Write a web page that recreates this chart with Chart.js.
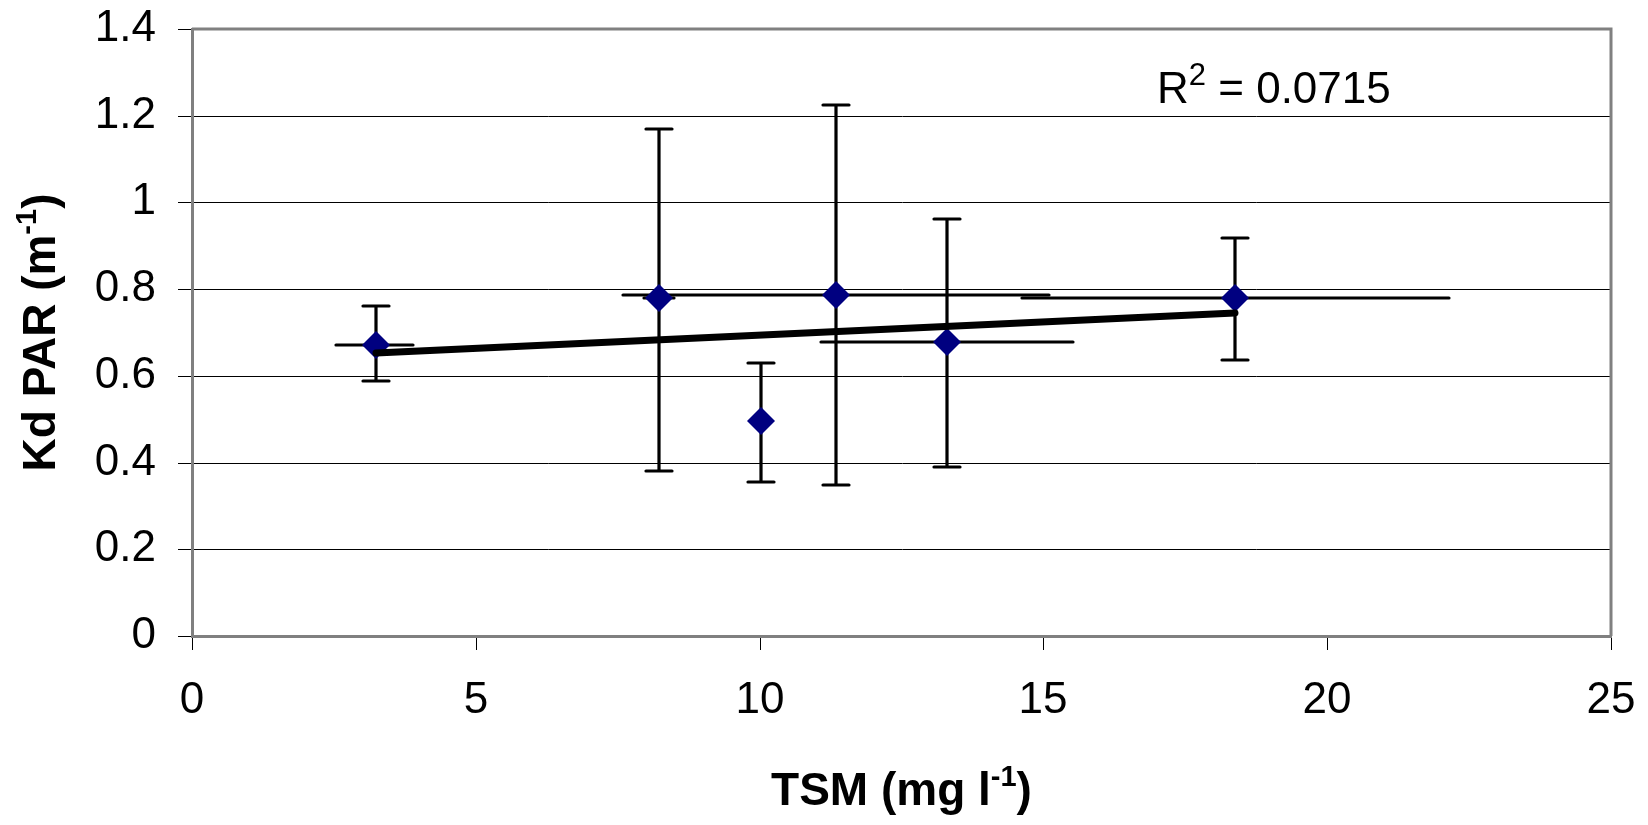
<!DOCTYPE html>
<html lang="en">
  <head>
    <meta charset="UTF-8" />
    <title>Kd PAR vs TSM</title>
    <script src="https://cdn.jsdelivr.net/npm/chart.js@4.4.0/dist/chart.umd.min.js"></script>
    <style>
      body { margin: 0; background: #fff; }
      canvas { display: block; }
    </style>
  </head>
  <body>
    <canvas id="chart" width="1648" height="825"></canvas>

    <script>
      // values
      const tsm = [3.24, 8.23, 10.02, 11.34, 13.31, 18.38];
      const kdPar = [0.671, 0.779, 0.497, 0.786, 0.679, 0.779];
      // vertical error bars (Kd PAR)
      const kdLow = [0.588, 0.381, 0.356, 0.348, 0.389, 0.637];
      const kdHigh = [0.762, 1.169, 0.63, 1.224, 0.961, 0.919];
      // horizontal error bars (TSM)
      const tsmLow = [2.53, 7.97, 10.02, 7.59, 11.08, 14.62];
      const tsmHigh = [3.9, 8.5, 10.02, 15.09, 15.53, 22.14];
      // linear trend line ends
      const trendX = [3.24, 18.38];
      const trendY = [0.653, 0.745];

      const xTickLabels = ["0", "5", "10", "15", "20", "25"];
      const yTickLabels = ["0", "0.2", "0.4", "0.6", "0.8", "1", "1.2", "1.4"];
      const rSquared = "0.0715";

      const FONT = "'Liberation Sans', Arial, sans-serif";

      // draws text with a raised small part: [main, sup, tail]
      function drawSupText(ctx, parts, x, y, size, bold, align, supScale) {
        const w = bold ? "bold " : "";
        const supSize = Math.round(size * (supScale || 0.62));
        ctx.font = w + size + "px " + FONT;
        const w1 = ctx.measureText(parts[0]).width;
        const w3 = ctx.measureText(parts[2]).width;
        ctx.font = w + supSize + "px " + FONT;
        const w2 = ctx.measureText(parts[1]).width;
        const total = w1 + w2 + w3;
        let sx = align === "center" ? x - total / 2 : x;
        ctx.textAlign = "left";
        ctx.textBaseline = "alphabetic";
        ctx.font = w + size + "px " + FONT;
        ctx.fillText(parts[0], sx, y);
        ctx.font = w + supSize + "px " + FONT;
        ctx.fillText(parts[1], sx + w1, y - size * 0.42);
        ctx.font = w + size + "px " + FONT;
        ctx.fillText(parts[2], sx + w1 + w2, y);
      }

      const errorBars = {
        id: "errorBars",
        beforeDatasetsDraw(chart) {
          const { ctx, chartArea, scales } = chart;
          const x = scales.x, y = scales.y;
          ctx.save();
          // top and right frame
          ctx.strokeStyle = "#808080";
          ctx.lineWidth = 3;
          ctx.beginPath();
          ctx.moveTo(chartArea.left, chartArea.top);
          ctx.lineTo(chartArea.right, chartArea.top);
          ctx.lineTo(chartArea.right, chartArea.bottom);
          ctx.stroke();

          ctx.strokeStyle = "#000";
          ctx.lineWidth = 3.2;
          ctx.lineCap = "round";
          const cap = 13;
          tsm.forEach((v, i) => {
            const px = x.getPixelForValue(v);
            const py = y.getPixelForValue(kdPar[i]);
            const top = y.getPixelForValue(kdHigh[i]);
            const bot = y.getPixelForValue(kdLow[i]);
            ctx.beginPath();
            ctx.moveTo(px, top);
            ctx.lineTo(px, bot);
            ctx.moveTo(px - cap, top);
            ctx.lineTo(px + cap, top);
            ctx.moveTo(px - cap, bot);
            ctx.lineTo(px + cap, bot);
            if (tsmHigh[i] > tsmLow[i]) {
              ctx.moveTo(x.getPixelForValue(tsmLow[i]), py);
              ctx.lineTo(x.getPixelForValue(tsmHigh[i]), py);
            }
            ctx.stroke();
          });
          ctx.restore();
        },
        afterDraw(chart) {
          const { ctx, chartArea } = chart;
          ctx.save();
          ctx.fillStyle = "#000";
          // x title
          drawSupText(ctx, ["TSM (mg l", "-1", ")"],
            (chartArea.left + chartArea.right) / 2, 805, 46, true, "center");
          // y title, rotated
          ctx.translate(55, (chartArea.top + chartArea.bottom) / 2);
          ctx.rotate(-Math.PI / 2);
          drawSupText(ctx, ["Kd PAR (m", "-1", ")"], 0, 0, 46, true, "center");
          ctx.restore();
          // R squared label
          ctx.save();
          ctx.fillStyle = "#000";
          drawSupText(ctx, ["R", "2", " = " + rSquared], 1157, 103, 44, false, "left", 0.7);
          ctx.restore();
        },
      };

      const ctx = document.getElementById("chart").getContext("2d");
      Chart.defaults.font.family = FONT;
      Chart.defaults.color = "#000";

      new Chart(ctx, {
        type: "scatter",
        data: {
          datasets: [
            {
              label: "trend",
              data: trendX.map((v, i) => ({ x: v, y: trendY[i] })),
              showLine: true,
              borderColor: "#000",
              borderWidth: 7,
              borderCapStyle: "round",
              pointRadius: 0,
              order: 0,
            },
            {
              label: "Kd PAR",
              data: tsm.map((v, i) => ({ x: v, y: kdPar[i] })),
              pointStyle: "rectRot",
              pointRadius: 14,
              backgroundColor: "#000080",
              borderColor: "#000080",
              borderWidth: 0,
              order: 1,
            },
          ],
        },
        options: {
          responsive: false,
          animation: false,
          events: [],
          layout: { padding: { top: 29, right: 37, left: 0, bottom: 0 } },
          plugins: { legend: { display: false }, tooltip: { enabled: false } },
          scales: {
            x: {
              type: "linear",
              min: 0,
              max: 25,
              alignToPixels: true,
              afterFit: (scale) => {
                scale.height = 189;
                scale.paddingLeft = 0;
                scale.paddingRight = 0;
              },
              border: { color: "#808080", width: 3 },
              grid: { drawOnChartArea: false, drawTicks: true, tickLength: 14, tickColor: "#000", tickWidth: 1 },
              ticks: {
                stepSize: 5,
                padding: 24,
                maxRotation: 0,
                font: { size: 44 },
                callback: (value, index) => xTickLabels[index],
              },
            },
            y: {
              type: "linear",
              min: 0,
              max: 1.4,
              alignToPixels: true,
              afterFit: (scale) => {
                scale.width = 192;
                scale.paddingTop = 0;
                scale.paddingBottom = 0;
              },
              border: { color: "#808080", width: 3 },
              grid: { color: "#000", lineWidth: 1, tickLength: 14, tickColor: "#000", tickWidth: 1 },
              ticks: {
                stepSize: 0.2,
                padding: 22,
                font: { size: 44 },
                callback: (value, index) => yTickLabels[index],
              },
            },
          },
        },
        plugins: [errorBars],
      });
    </script>
  </body>
</html>
